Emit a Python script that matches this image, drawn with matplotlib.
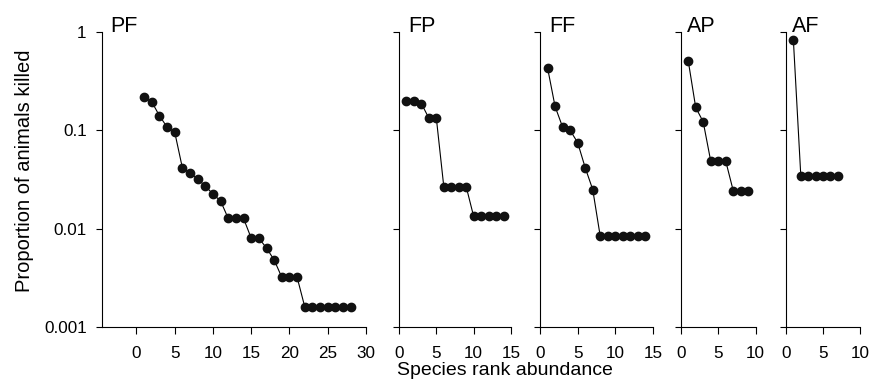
import matplotlib
matplotlib.use('Agg')
import matplotlib.pyplot as plt

plt.rcParams['font.family'] = ['Liberation Sans', 'DejaVu Sans']

# proportion of animals killed, by species rank
pf_vals = [0.217, 0.195, 0.141, 0.108, 0.096, 0.0417, 0.0368, 0.032, 0.0271, 0.0225,
           0.0191, 0.0127, 0.0127, 0.0127, 0.008, 0.008, 0.00635, 0.0048, 0.0032, 0.0032,
           0.0032, 0.0016, 0.0016, 0.0016, 0.0016, 0.0016, 0.0016, 0.0016]
fp_vals = [0.2, 0.2, 0.187, 0.133, 0.133, 0.0267, 0.0267, 0.0267, 0.0267,
           0.0133, 0.0133, 0.0133, 0.0133, 0.0133]
ff_vals = [0.433, 0.175, 0.108, 0.1, 0.075, 0.0417, 0.025, 0.00833, 0.00833,
           0.00833, 0.00833, 0.00833, 0.00833, 0.00833]
ap_vals = [0.512, 0.171, 0.122, 0.0488, 0.0488, 0.0488, 0.0244, 0.0244, 0.0244]
af_vals = [0.82, 0.0345, 0.0345, 0.0345, 0.0345, 0.0345, 0.0345]

panels = ['PF', 'FP', 'FF', 'AP', 'AF']
series = [pf_vals, fp_vals, ff_vals, ap_vals, af_vals]
xlims = [(-4.5, 30), (0, 15), (0, 15), (0, 10), (0, 10)]
xticks = [[0, 5, 10, 15, 20, 25, 30], [0, 5, 10, 15], [0, 5, 10, 15], [0, 5, 10], [0, 5, 10]]

W, H = 871.0, 388.0
# left / right edges of each panel in pixels
edges = [(102, 366), (399, 511), (540, 653), (680.7, 755.7), (786, 860)]
top, bottom = 32, 327

fig = plt.figure(figsize=(8.71, 3.88), dpi=100)
axes = []
for i in range(len(panels)):
    l, r = edges[i]
    ax = fig.add_axes([l / W, 1 - bottom / H, (r - l) / W, (bottom - top) / H])
    vals = series[i]
    ranks = list(range(1, len(vals) + 1))
    ax.plot(ranks, vals, color='black', lw=0.8, marker='o', ms=6,
            mfc='#111111', mec='#111111', zorder=3, clip_on=False)
    ax.set_yscale('log')
    ax.set_ylim(0.001, 1)
    ax.set_xlim(*xlims[i])
    ax.set_xticks(xticks[i])
    ax.set_yticks([0.001, 0.01, 0.1, 1])
    ax.yaxis.set_minor_locator(matplotlib.ticker.NullLocator())
    if i == 0:
        ax.set_yticklabels(['0.001', '0.01', '0.1', '1'])
    else:
        ax.set_yticklabels([])
    ax.spines['top'].set_visible(False)
    ax.spines['right'].set_visible(False)
    for s in ['left', 'bottom']:
        ax.spines[s].set_linewidth(0.8)
    ax.tick_params(axis='x', length=5, width=0.8, pad=9, labelsize=12.3)
    ax.tick_params(axis='y', length=4.5, width=0.8, pad=6.5, labelsize=12.3)
    ax.text(0.03 if i == 0 else 0.08, 1.0, panels[i], transform=ax.transAxes,
            fontsize=15.5, ha='left', va='baseline')
    axes.append(ax)

fig.text(397 / W, 1 - 375 / H, 'Species rank abundance', ha='left', va='baseline', fontsize=14)
fig.text(25 / W, 1 - 171 / H, 'Proportion of animals killed', ha='center', va='center',
         rotation=90, fontsize=14.5)

fig.savefig('out.png', dpi=100)
